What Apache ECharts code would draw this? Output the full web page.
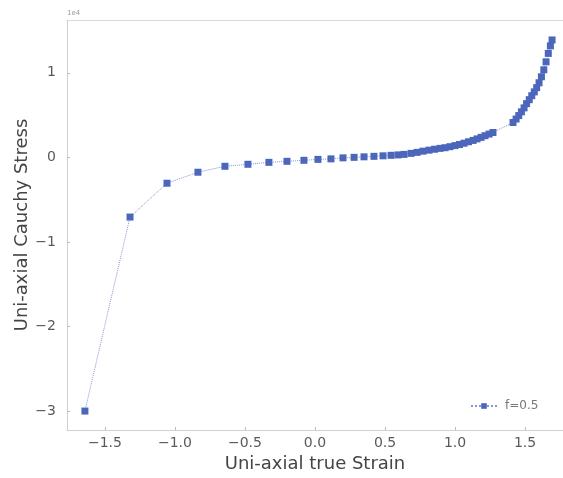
<!DOCTYPE html>
<html>
<head>
<meta charset="utf-8">
<script src="https://cdn.jsdelivr.net/npm/echarts@6/dist/echarts.min.js"></script>
<style>
  html, body { margin: 0; padding: 0; background: #fff; }
  #chart { width: 563px; height: 478px; }
</style>
</head>
<body>
<div id="chart"></div>
<script>
// Uni-axial true strain (x) and Cauchy stress (y, in units of 1e4), f = 0.5
const strain = [
  -1.643, -1.321, -1.057, -0.836, -0.643, -0.479, -0.329, -0.200, -0.079, 0.021,
  0.114, 0.200, 0.279, 0.350, 0.421, 0.486, 0.543, 0.593, 0.636,
  0.686, 0.729, 0.771, 0.814, 0.854, 0.893, 0.929, 0.964, 1.000, 1.032,
  1.064, 1.096, 1.129, 1.157, 1.186, 1.214, 1.243, 1.271,
  1.414, 1.436, 1.455, 1.474, 1.493, 1.511, 1.530, 1.548, 1.566, 1.583,
  1.600, 1.617, 1.634, 1.650, 1.666, 1.681, 1.693
];
const stress = [
  -3.000, -0.706, -0.306, -0.176, -0.106, -0.082, -0.059, -0.047, -0.035, -0.024,
  -0.018, -0.006, 0.000, 0.006, 0.012, 0.018, 0.024, 0.029, 0.035,
  0.047, 0.059, 0.073, 0.085, 0.096, 0.106, 0.114, 0.126, 0.139, 0.152,
  0.167, 0.184, 0.200, 0.218, 0.236, 0.256, 0.275, 0.294,
  0.412, 0.453, 0.494, 0.538, 0.585, 0.635, 0.682, 0.729, 0.774, 0.824,
  0.882, 0.953, 1.035, 1.129, 1.229, 1.318, 1.388
];
const seriesName = 'f=0.5';
const xTicks = [-1.5, -1.0, -0.5, 0.0, 0.5, 1.0, 1.5];
const yTicks = [-3, -2, -1, 0, 1];

const points = strain.map((x, i) => [x, stress[i]]);
const fmtNum = (v, d) => {
  const s = Math.abs(v).toFixed(d);
  return (v < 0 ? '\u2212' : '') + s;
};

const chart = echarts.init(document.getElementById('chart'), null, { renderer: 'canvas' });
const font = 'DejaVu Sans';
const spine = { show: true, onZero: false, lineStyle: { color: '#d0d0d0', width: 1 } };
const xMin = -1.771, xMax = 1.771;

chart.setOption({
  animation: false,
  backgroundColor: '#ffffff',
  textStyle: { fontFamily: font },
  grid: { left: 67, top: 20, right: 0, bottom: 46, show: false },
  xAxis: [{
    type: 'value',
    min: xMin,
    max: xMax,
    axisLine: spine,
    splitLine: { show: false },
    axisTick: { show: true, inside: true, length: 3, customValues: xTicks, lineStyle: { color: '#bbbbbb' } },
    axisLabel: {
      customValues: xTicks,
      formatter: v => fmtNum(v, 1),
      color: '#5a5a5a', fontSize: 14, fontFamily: font, margin: 6
    },
    name: 'Uni-axial true Strain',
    nameLocation: 'middle',
    nameGap: 25,
    nameTextStyle: { color: '#444444', fontSize: 18, fontFamily: font }
  }, {
    // top frame line only
    type: 'value',
    position: 'top',
    min: xMin,
    max: xMax,
    axisLine: { show: true, onZero: false, lineStyle: { color: '#dadada', width: 1 } },
    axisTick: { show: false },
    axisLabel: { show: false },
    splitLine: { show: false }
  }],
  yAxis: {
    type: 'value',
    min: -3.224,
    max: 1.624,
    axisLine: spine,
    splitLine: { show: false },
    axisTick: { show: true, inside: true, length: 3, customValues: yTicks, lineStyle: { color: '#bbbbbb' } },
    axisLabel: {
      customValues: yTicks,
      formatter: v => fmtNum(v, 0),
      color: '#5a5a5a', fontSize: 14, fontFamily: font, margin: 11
    },
    name: 'Uni-axial Cauchy Stress',
    nameLocation: 'middle',
    nameGap: 36,
    nameMoveOverlap: false,
    nameRotate: 90,
    nameTextStyle: { color: '#444444', fontSize: 18, fontFamily: font }
  },
  legend: {
    show: true,
    left: 465,
    top: 395,
    itemWidth: 26,
    itemHeight: 7,
    itemGap: 4,
    textStyle: { color: '#777777', fontSize: 12, fontFamily: font, padding: [0, 0, 0, 3] },
    data: [{ name: seriesName }]
  },
  graphic: [{
    type: 'text',
    left: 67,
    top: 10,
    style: { text: '1e4', fill: '#9a9a9a', fontSize: 7, fontFamily: font }
  }],
  series: [{
    name: seriesName,
    type: 'line',
    xAxisIndex: 0,
    data: points,
    showAllSymbol: true,
    symbol: 'rect',
    symbolSize: 7,
    itemStyle: { color: '#4c66bb' },
    lineStyle: { type: 'dotted', width: 1, color: 'rgba(90,115,200,0.75)' },
    z: 3
  }]
});
</script>
</body>
</html>
